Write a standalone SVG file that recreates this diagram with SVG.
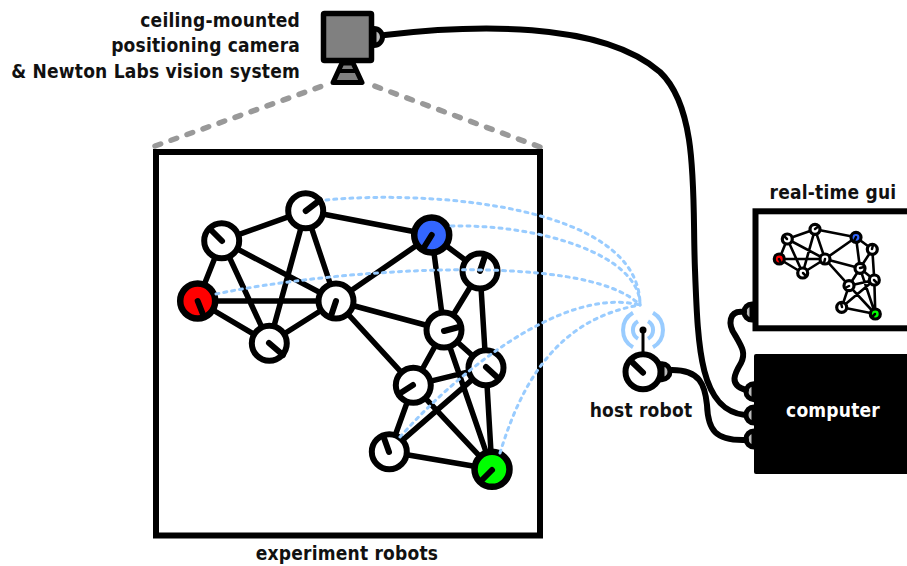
<svg xmlns="http://www.w3.org/2000/svg" width="907" height="566" viewBox="0 0 907 566">
<style>
text{font-family:"DejaVu Sans",sans-serif;font-stretch:condensed;font-weight:700;font-size:19px;letter-spacing:.2px;fill:#111}
.e{stroke:#000;stroke-width:5.5;stroke-linecap:round;fill:none}
.se{stroke:#000;stroke-width:2.6;fill:none}
.n{fill:#fff;stroke:#000;stroke-width:6}
.t{stroke:#000;stroke-width:6;stroke-linecap:round}
.sn{fill:#fff;stroke:#000;stroke-width:3.2}
.st{stroke:#000;stroke-width:2.5;stroke-linecap:round}
.d{stroke:#99ccff;stroke-width:3;stroke-dasharray:3 5;stroke-linecap:round;fill:none}
.c{stroke:#000;stroke-width:6;stroke-linecap:round;fill:none}
.p{fill:#bbb;stroke:#000;stroke-width:5}
.a{stroke:#99ccff;stroke-width:4;fill:none}
.v{stroke:#999;stroke-width:5.5;stroke-dasharray:6 11;stroke-linecap:round;fill:none}
</style>
<g id="view-lines"><path class="v" d="M155 146L328 84"/><path class="v" d="M540 147L369 84"/></g>
<g id="experiment-box"><rect x="156" y="152" width="384" height="383.500" fill="#fff" stroke="#000" stroke-width="6"/></g>
<g id="edges">
<path class="e" d="M305.7 210.7L221.7 240.7M305.7 210.7L431.7 235M305.7 210.7L336 301M305.7 210.7L269.3 343.3M221.7 240.7L197.7 301M221.7 240.7L336 301M221.7 240.7L269.3 343.3M197.7 301L336 301M197.7 301L269.3 343.3M336 301L269.3 343.3M336 301L431.7 235M336 301L444 330M336 301L413.3 385.3M431.7 235L480 271M431.7 235L444 330M480 271L444 330M480 271L486 367.7M444 330L486 367.7M444 330L413.3 385.3M444 330L492 469.3M486 367.7L413.3 385.3M486 367.7L389.3 451.7M486 367.7L492 469.3M413.3 385.3L389.3 451.7M413.3 385.3L492 469.3M389.3 451.7L492 469.3"/>
</g>
<g id="robots">
<g id="r1"><circle class="n" cx="305.7" cy="210.7" r="17.5"/><path class="t" d="M305.7 211L320 200"/></g>
<g id="r2"><circle class="n" cx="221.7" cy="240.7" r="17.5"/><path class="t" d="M222 241L210 229"/></g>
<g id="r3"><circle cx="197.7" cy="301" r="17.5" fill="#f00" stroke="#000" stroke-width="6.5"/><path class="t" d="M197.7 301L204 317"/></g>
<g id="r4"><circle class="n" cx="336" cy="301" r="17.5"/><path class="t" d="M336 301L331 316"/></g>
<g id="r5"><circle class="n" cx="269.3" cy="343.3" r="17.5"/><path class="t" d="M269 343L283 355"/></g>
<g id="r6"><circle cx="431.7" cy="235" r="17.5" fill="#3366ff" stroke="#000" stroke-width="6.5"/><path class="t" d="M431.7 235L423 249"/></g>
<g id="r7"><circle class="n" cx="480" cy="271" r="17.5"/><path class="t" d="M480 271L485 256"/></g>
<g id="r8"><circle class="n" cx="444" cy="330" r="17.5"/><path class="t" d="M444 331L459 327"/></g>
<g id="r9"><circle class="n" cx="486" cy="367.7" r="17.5"/><path class="t" d="M486 367L498 378"/></g>
<g id="r10"><circle class="n" cx="413.3" cy="385.3" r="17.5"/><path class="t" d="M413 385L399 394"/></g>
<g id="r11"><circle class="n" cx="389.3" cy="451.7" r="17.5"/><path class="t" d="M389 452L384 438"/></g>
<g id="r12"><circle cx="492" cy="469.3" r="17.5" fill="#00ff00" stroke="#000" stroke-width="6.5"/><path class="t" d="M492 470L481 481"/></g>
</g>
<g id="wireless">
<path class="d" d="M326 200C430 190 640 205 640 305"/>
<path class="d" d="M451 226C540 224 640 255 640 305"/>
<path class="d" d="M216 294C330 270 585 250 640 305"/>
<path class="d" d="M400 437C450 380 560 285 640 305"/>
<path class="d" d="M500 453C518 395 550 320 640 305"/>
</g>
<g id="host-robot">
<path d="M643 352V330" stroke="#000" stroke-width="3"/><circle cx="643" cy="330" r="3.5" fill="#000"/>
<path class="a" d="M638 321.300A10 10 0 0 0 638 338.700M648 321.300A10 10 0 0 1 648 338.700M633 312.700A20 20 0 0 0 633 347.300M653 312.700A20 20 0 0 1 653 347.300"/>
<path class="p" d="M662 363.700A8 8 0 0 1 662 379.700Z"/>
<circle class="n" cx="643" cy="371.700" r="17.500"/><path class="t" d="M643 372.700L632 362"/>
</g>
<g id="gui">
<rect x="755.500" y="211.300" width="170" height="117" fill="#fff" stroke="#000" stroke-width="6"/>
<path class="p" d="M752 304A8 8 0 0 0 752 320Z"/>
<path class="se" d="M815 229.3L787.3 239M815 229.3L856 237.3M815 229.3L825 259M815 229.3L802.7 273M787.3 239L779.3 259M787.3 239L825 259M787.3 239L802.7 273M779.3 259L825 259M779.3 259L802.7 273M825 259L802.7 273M825 259L856 237.3M825 259L860 268.3M825 259L849 285.7M856 237.3L872.3 249.3M856 237.3L860 268.3M872.3 249.3L860 268.3M872.3 249.3L874.3 280M860 268.3L874.3 280M860 268.3L849 285.7M860 268.3L875.3 314M874.3 280L849 285.7M874.3 280L841.7 307.3M874.3 280L875.3 314M849 285.7L841.7 307.3M849 285.7L875.3 314M841.7 307.3L875.3 314"/>
<circle class="sn" cx="815" cy="229.3" r="5"/><path class="st" d="M815 229L819 226"/>
<circle class="sn" cx="787.3" cy="239" r="5"/><path class="st" d="M787 239L784 236"/>
<circle cx="779.3" cy="259" r="5" fill="#f00" stroke="#000" stroke-width="3.2"/><path class="st" d="M779 259L781 263"/>
<circle class="sn" cx="825" cy="259" r="5"/><path class="st" d="M825 259L824 263"/>
<circle class="sn" cx="802.7" cy="273" r="5"/><path class="st" d="M803 273L806 276"/>
<circle cx="856" cy="237.3" r="5" fill="#3366ff" stroke="#000" stroke-width="3.2"/><path class="st" d="M856 237L854 241"/>
<circle class="sn" cx="872.3" cy="249.3" r="5"/><path class="st" d="M872 249L873 245"/>
<circle class="sn" cx="860" cy="268.3" r="5"/><path class="st" d="M860 268L864 267"/>
<circle class="sn" cx="874.3" cy="280" r="5"/><path class="st" d="M874 280L877 283"/>
<circle class="sn" cx="849" cy="285.7" r="5"/><path class="st" d="M849 286L845 288"/>
<circle class="sn" cx="841.7" cy="307.3" r="5"/><path class="st" d="M842 307L841 303"/>
<circle cx="875.3" cy="314" r="5" fill="#00ff00" stroke="#000" stroke-width="3.2"/><path class="st" d="M875 314L872 317"/>
</g>
<g id="computer">
<path class="p" d="M754 383.700A8 8 0 0 0 754 399.700Z"/>
<path class="p" d="M754 407A8 8 0 0 0 754 423Z"/>
<path class="p" d="M754 431A8 8 0 0 0 754 447Z"/>
<rect x="754" y="354" width="160" height="120" rx="2" fill="#000"/>
</g>
<g id="connectors">
<path class="c" d="M744 312C728 310 728 325 735 335C742 347 746 353 741 363C735 373 728 385 746 390"/>
<path class="c" d="M385 35C470 25 600 20 660 72C700 110 692 200 695 270C698 350 700 410 745 415"/>
<path class="c" d="M672 370C700 370 705 385 707 405C708 430 715 441 746 440"/>
</g>
<g id="camera">
<path class="p" d="M374 28.500A8.500 8.500 0 0 1 374 45.500Z"/>
<rect x="323.500" y="13.500" width="48" height="47" rx="1" fill="#808080" stroke="#000" stroke-width="5.500"/>
<path d="M342 63H353L362 82.500H333Z" fill="#808080" stroke="#000" stroke-width="5" stroke-linejoin="round"/>
<path d="M339 71H356" stroke="#000" stroke-width="4"/>
</g>
<g id="labels">
<text x="300" y="27" text-anchor="end">ceiling-mounted</text>
<text x="300" y="52" text-anchor="end">positioning camera</text>
<text x="300" y="77.500" text-anchor="end">&amp; Newton Labs vision system</text>
<text x="347" y="560" text-anchor="middle">experiment robots</text>
<text x="641" y="417" text-anchor="middle">host robot</text>
<text x="833" y="199" text-anchor="middle">real-time gui</text>
<text x="833" y="417" text-anchor="middle" style="fill:#fff">computer</text>
</g>
</svg>
